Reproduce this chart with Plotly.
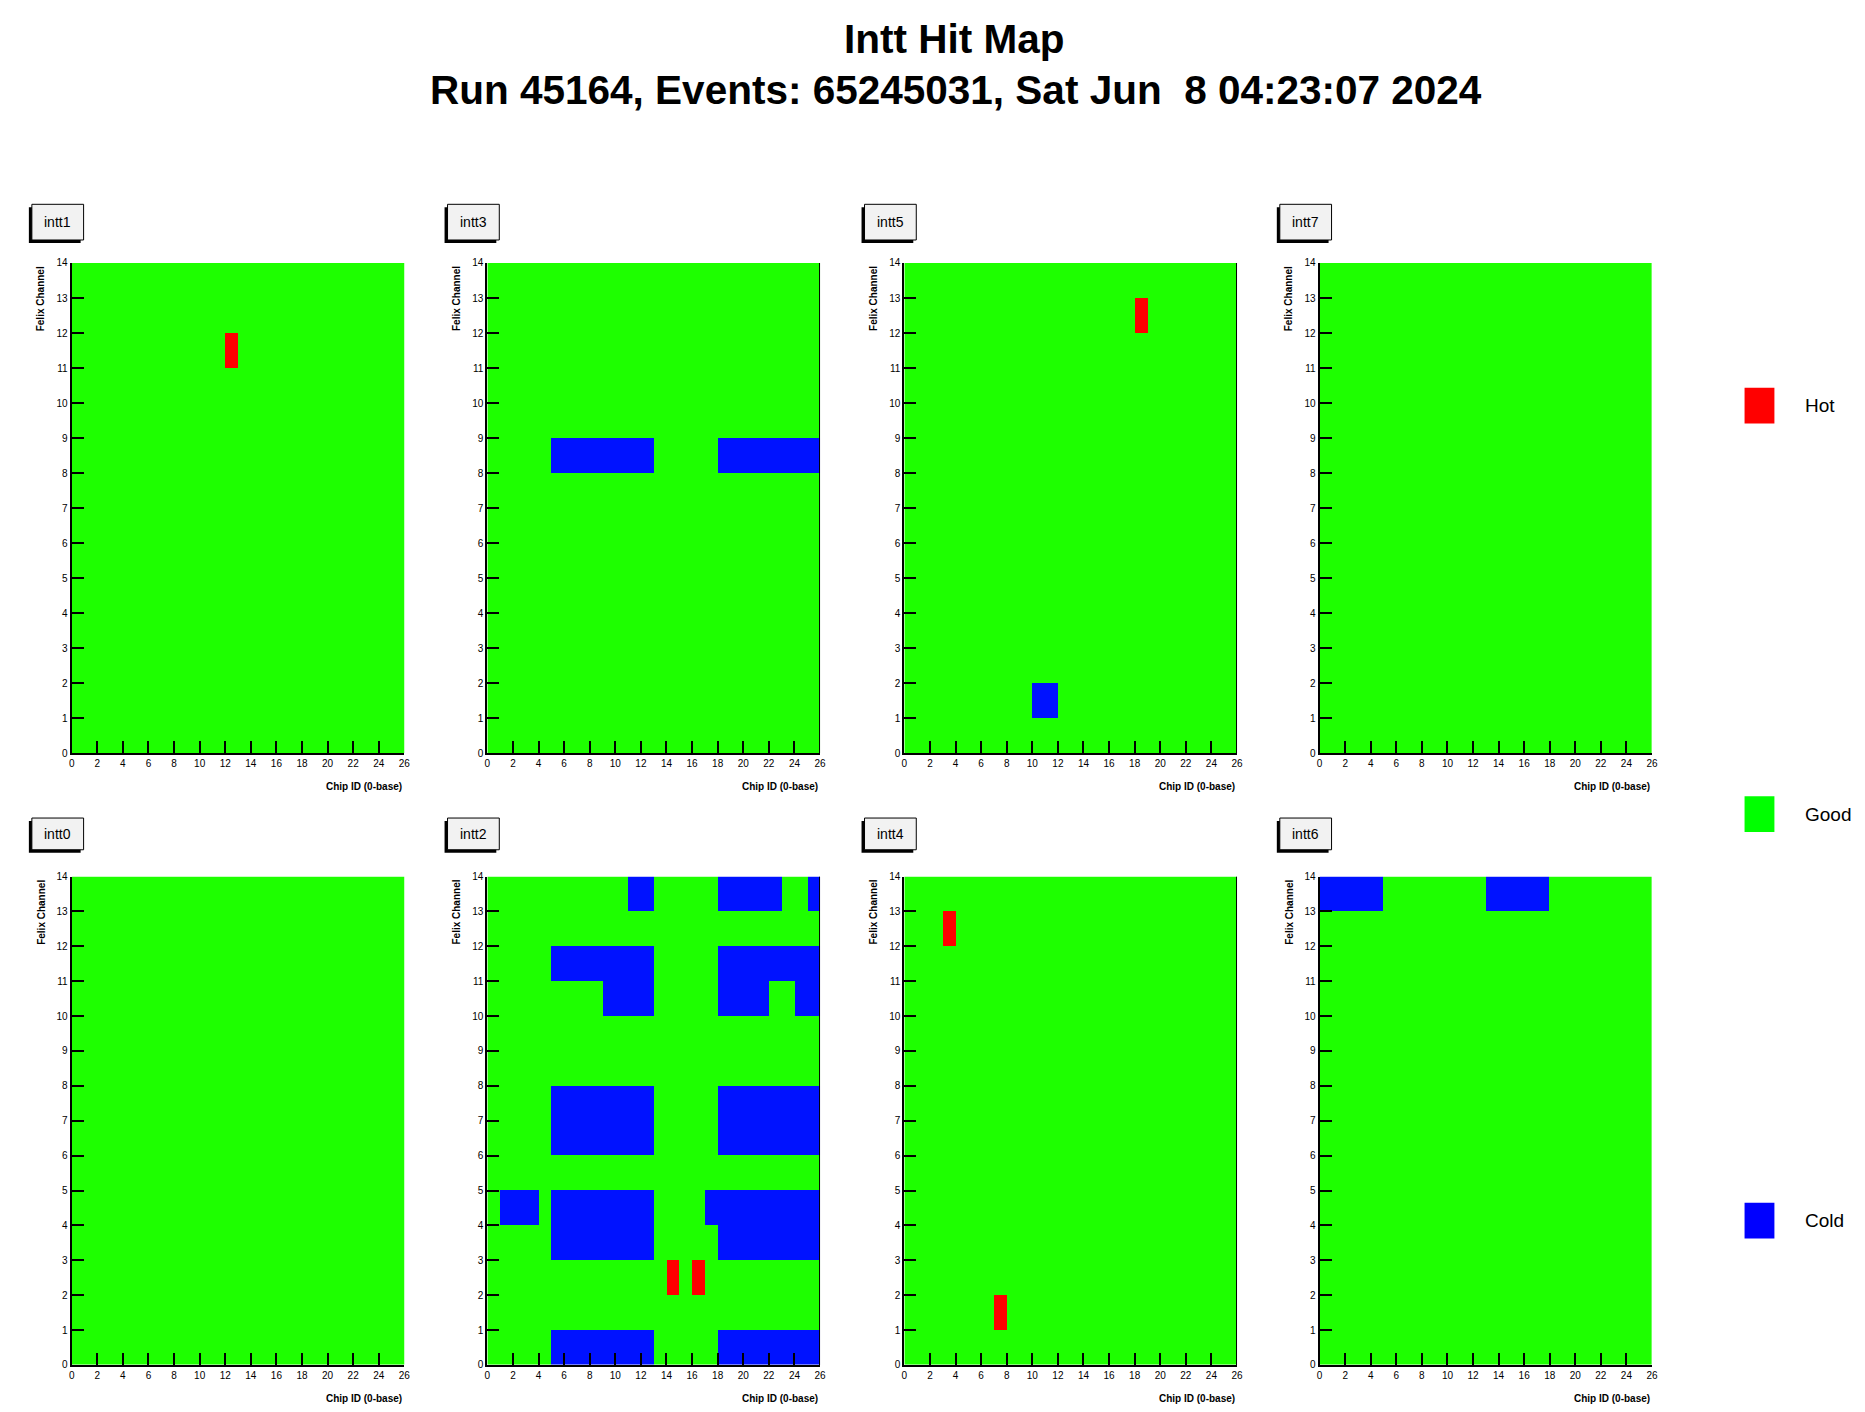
import plotly.graph_objects as go

W, H = 1865, 1412
FONT = "Liberation Sans"

# ---- data -------------------------------------------------------------
n_chips = 26       # chip id (0-base), x bins
n_channels = 14    # felix channel, y bins

# panel order: top row then bottom row
panel_names = ["intt1", "intt3", "intt5", "intt7", "intt0", "intt2", "intt4", "intt6"]

# hot cells: (felix channel, chip)
hot_intt1 = [(11, 12)]
hot_intt3 = []
hot_intt5 = [(12, 18)]
hot_intt7 = []
hot_intt0 = []
hot_intt2 = [(2, 14), (2, 16)]
hot_intt4 = [(12, 3), (1, 7)]
hot_intt6 = []

# cold runs: (felix channel, first chip, last chip)
cold_intt1 = []
cold_intt3 = [(8, 5, 12), (8, 18, 25)]
cold_intt5 = [(1, 10, 11)]
cold_intt7 = []
cold_intt0 = []
cold_intt2 = [
    (13, 11, 12), (13, 18, 22), (13, 25, 25),
    (11, 5, 12), (11, 18, 25),
    (10, 9, 12), (10, 18, 21), (10, 24, 25),
    (7, 5, 12), (7, 18, 25),
    (6, 5, 12), (6, 18, 25),
    (4, 1, 3), (4, 5, 12), (4, 17, 25),
    (3, 5, 12), (3, 18, 25),
    (0, 5, 12), (0, 18, 25),
]
cold_intt4 = []
cold_intt6 = [(13, 0, 4), (13, 13, 17)]

hot_by_server = {
    "intt0": hot_intt0, "intt1": hot_intt1, "intt2": hot_intt2, "intt3": hot_intt3,
    "intt4": hot_intt4, "intt5": hot_intt5, "intt6": hot_intt6, "intt7": hot_intt7,
}
cold_by_server = {
    "intt0": cold_intt0, "intt1": cold_intt1, "intt2": cold_intt2, "intt3": cold_intt3,
    "intt4": cold_intt4, "intt5": cold_intt5, "intt6": cold_intt6, "intt7": cold_intt7,
}

x_ticks = list(range(0, 27, 2))
y_ticks = list(range(0, 15))

status_labels = ["Hot", "Good", "Cold"]
GOOD, HOT, COLD = 0, 1, 2
c_good, c_hot, c_cold = "#1eff00", "#ff0000", "#0012ff"
legend_colors = {"Hot": "#ff0000", "Good": "#00ff00", "Cold": "#0000ff"}

# panels that show the frame on their right edge
right_frame = ["intt3", "intt5", "intt2", "intt4"]

# ---- layout geometry (pixels) ----------------------------------------
col_x = [(69, 403.3), (486.7, 821), (905.7, 1240), (1323, 1657)]
row_y = [(259.2, 753.5), (878, 1370.6)]


def px(x):
    return x / W


def py(y):
    return 1 - y / H


fig = go.Figure()
shapes = []
annotations = []
layout_axes = {}

for i, name in enumerate(panel_names):
    r, c = divmod(i, 4)
    x0, x1 = col_x[c]
    y0, y1 = row_y[r]

    z = [[GOOD] * n_chips for _ in range(n_channels)]
    for ch, chip in hot_by_server[name]:
        z[ch][chip] = HOT
    for ch, a, b in cold_by_server[name]:
        for k in range(a, b + 1):
            z[ch][k] = COLD

    xa = "x" if i == 0 else f"x{i + 1}"
    ya = "y" if i == 0 else f"y{i + 1}"
    fig.add_trace(go.Heatmap(
        z=z, x0=0.5, dx=1, y0=0.5, dy=1,
        xaxis=xa, yaxis=ya,
        colorscale=[[0, c_good], [0.5, c_hot], [1, c_cold]],
        zmin=0, zmax=2, showscale=False, hoverinfo="skip",
    ))

    common = dict(
        showgrid=False, zeroline=False, showline=True, linecolor="black",
        linewidth=2, ticks="inside", ticklen=12, tickwidth=1.5,
        tickcolor="black", tickfont=dict(family=FONT, size=10, color="black"),
        fixedrange=True,
    )
    layout_axes["xaxis" if i == 0 else f"xaxis{i + 1}"] = dict(
        common, domain=[px(x0), px(x1)], anchor=ya, range=[0, n_chips],
        tickvals=x_ticks,
    )
    layout_axes["yaxis" if i == 0 else f"yaxis{i + 1}"] = dict(
        common, domain=[py(y1), py(y0)], anchor=xa, range=[0, n_channels],
        tickvals=y_ticks,
    )

    if name in right_frame:
        shapes.append(dict(type="line", xref=xa, yref=ya, x0=n_chips, x1=n_chips,
                           y0=0, y1=n_channels, line=dict(color="black", width=2)))

    # axis titles
    annotations.append(dict(
        text="<b>Felix Channel</b>", textangle=-90, xref="paper", yref="paper",
        x=px(x0 - 31), y=py(y0 + 1), xanchor="center", yanchor="top",
        showarrow=False, font=dict(family=FONT, size=10, color="black"),
    ))
    annotations.append(dict(
        text="<b>Chip ID (0-base)</b>", xref="paper", yref="paper",
        x=px(x1), y=py(y1 + 34), xanchor="right", yanchor="middle",
        showarrow=False, font=dict(family=FONT, size=10, color="black"),
    ))

    # pad title box with shadow
    bx0, bx1 = x0 - 40, x0 + 12
    by0, by1 = (200, 236) if r == 0 else (819, 851)
    shapes.append(dict(type="rect", xref="paper", yref="paper",
                       x0=px(bx0 - 3), x1=px(bx1 - 3), y0=py(by1 + 3), y1=py(by0 + 3),
                       fillcolor="black", line=dict(width=0)))
    shapes.append(dict(type="rect", xref="paper", yref="paper",
                       x0=px(bx0), x1=px(bx1), y0=py(by1), y1=py(by0),
                       fillcolor="#f2f2f2", line=dict(color="black", width=1)))
    annotations.append(dict(
        text=name, xref="paper", yref="paper",
        x=px((bx0 + bx1) / 2), y=py((by0 + by1) / 2), xanchor="center",
        yanchor="middle", showarrow=False,
        font=dict(family=FONT, size=14, color="black"),
    ))

# status key on the right
key_y = {"Hot": 403, "Good": 815, "Cold": 1225}
for lab in status_labels:
    yc = key_y[lab]
    shapes.append(dict(type="rect", xref="paper", yref="paper",
                       x0=px(1750), x1=px(1780), y0=py(yc + 18), y1=py(yc - 18),
                       fillcolor=legend_colors[lab], line=dict(width=0)))
    annotations.append(dict(
        text=lab, xref="paper", yref="paper", x=px(1809), y=py(yc),
        xanchor="left", yanchor="middle", showarrow=False,
        font=dict(family=FONT, size=19, color="black"),
    ))

# canvas titles
annotations.append(dict(
    text="<b>Intt Hit Map</b>", xref="paper", yref="paper", x=px(956), y=py(33),
    xanchor="center", yanchor="middle", showarrow=False,
    font=dict(family=FONT, size=40.5, color="black"),
))
annotations.append(dict(
    text="<b>Run 45164, Events: 65245031, Sat Jun\u00a0 8 04:23:07 2024</b>",
    xref="paper", yref="paper", x=px(958), y=py(85),
    xanchor="center", yanchor="middle", showarrow=False,
    font=dict(family=FONT, size=40.5, color="black"),
))

fig.update_layout(
    width=W, height=H, margin=dict(l=0, r=0, t=0, b=0),
    paper_bgcolor="white", plot_bgcolor="white",
    showlegend=False, shapes=shapes, annotations=annotations,
    **layout_axes,
)

fig.write_html("out.html")
